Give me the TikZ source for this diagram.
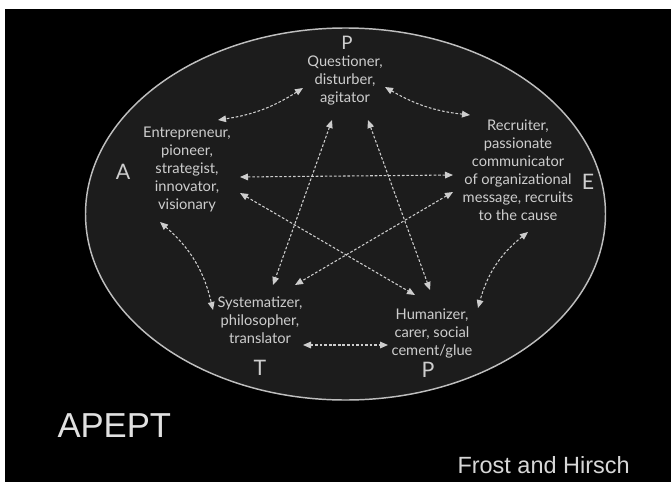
\documentclass[tikz,border=0pt]{standalone}
\usepackage{fontspec}
\setmainfont{Lato}
\newfontfamily\arialfont{Liberation Sans}
\usetikzlibrary{arrows.meta}
\definecolor{inkgray}{RGB}{205,205,205}
\definecolor{rimgray}{RGB}{190,190,190}
\definecolor{ovalfill}{RGB}{28,28,28}

\tikzset{every picture/.style={line width=0.75pt}}

\begin{document}
\begin{tikzpicture}[x=0.75pt,y=0.75pt,yscale=-1,xscale=1,
  role/.style={align=center,text=inkgray,inner sep=0.75pt,font=\fontsize{11}{13.5}\selectfont},
  letter/.style={text=inkgray,inner sep=0.75pt,font=\fontsize{16}{16}\selectfont},
  link/.style={draw=inkgray,line width=0.8pt,dash pattern={on 2pt off 1.4pt},
    arrows={Triangle[length=6pt,width=5pt]-Triangle[length=6pt,width=5pt]}}]
\useasboundingbox (0,0) rectangle (671,482);

%Background
\fill [white] (0,0) rectangle (671,482);
\fill [black] (5,9) rectangle (671,482);

%Shape: Ellipse
\draw [draw=rimgray,fill=ovalfill,line width=1.1pt] (345.5,214) ellipse (260 and 186);

% Text Node
\draw (345,80) node (q) [role] {Questioner,\\disturber,\\agitator};
% Text Node
\draw (187,169) node (en) [role] {Entrepreneur,\\pioneer,\\strategist,\\innovator,\\visionary};
% Text Node
\draw (518,170) node (re) [role] {Recruiter,\\passionate\\communicator\\of organizational\\message, recruits\\to the cause};
% Text Node
\draw (260,320) node (sy) [role] {Systematizer,\\philosopher,\\translator};
% Text Node
\draw (432,333) node (hu) [role] {Humanizer,\\carer, social\\cement/glue};

% Text Node
\draw (347,43) node (lp1) [letter,font=\fontsize{14}{14}\selectfont] {P};
\draw (123,172) node (la) [letter] {A};
\draw (588,182) node (le) [letter] {E};
\draw (260,368) node (lt) [letter] {T};
\draw (428,370) node (lp2) [letter] {P};

%Curved Lines
\draw [link] ([shift={(-42,8)}]q.center) to[bend right=12] ([shift={(31,-49)}]en.center);
\draw [link] ([shift={(40,7)}]q.center) to[bend left=12] ([shift={(-48,-55)}]re.center);
\draw [link] ([shift={(-27,53)}]en.center) to[bend right=18] ([shift={(-47,-10)}]sy.center);
\draw [link] ([shift={(10,62)}]re.center) to[bend left=18] ([shift={(46,-25)}]hu.center);
%Straight Lines
\draw [link] ([shift={(43,25)}]sy.center) -- ([shift={(-44,12)}]hu.center);
\draw [link] ([shift={(-13,40)}]q.center) -- ([shift={(13,-35)}]sy.center);
\draw [link] ([shift={(23,40)}]q.center) -- ([shift={(-2,-43)}]hu.center);
\draw [link] ([shift={(53,8)}]en.center) -- ([shift={(-65,5)}]re.center);
\draw [link] ([shift={(53,24)}]en.center) -- ([shift={(-17,-38)}]hu.center);
\draw [link] ([shift={(-65,22)}]re.center) -- ([shift={(35,-35)}]sy.center);

% Text Node
\draw (57,437) node (ttl) [anchor=base west,inner sep=0pt,text={rgb,255:red,225;green,225;blue,225}] {\arialfont\fontsize{26}{26}\selectfont APEPT};
% Text Node
\draw (457,473) node (src) [anchor=base west,inner sep=0pt,text={rgb,255:red,215;green,215;blue,215}] {\arialfont\fontsize{17.6}{17.6}\selectfont Frost and Hirsch};

\end{tikzpicture}
\end{document}
